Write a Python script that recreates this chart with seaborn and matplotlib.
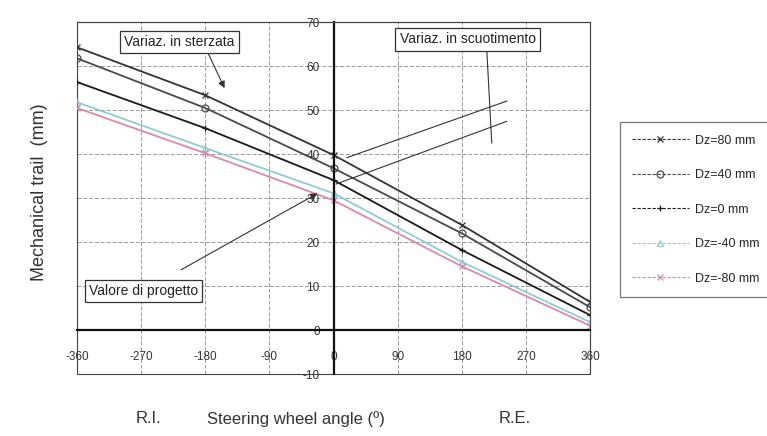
import numpy as np
import pandas as pd
import matplotlib
matplotlib.use("Agg")
import matplotlib.pyplot as plt
from matplotlib.patches import Rectangle
import seaborn as sns

sns.set_theme(style="white")
plt.rcParams['font.family'] = ['Liberation Sans', 'DejaVu Sans']

# -------------------------
# Data
# -------------------------
angles = [-360, -180, 0, 180, 360]
dz_80 = [64.3, 53.4, 39.8, 23.9, 6.4]
dz_40 = [61.8, 50.5, 36.8, 22.0, 5.2]
dz_0 = [56.4, 45.9, 34.1, 18.2, 3.4]
dz_m40 = [51.8, 41.4, 31.1, 15.5, 1.8]
dz_m80 = [50.5, 40.2, 29.5, 14.5, 1.0]

labels = ["Dz=80 mm", "Dz=40 mm", "Dz=0 mm", "Dz=-40 mm", "Dz=-80 mm"]
colors = ["#333333", "#4a4a4a", "#1a1a1a", "#8fcbd8", "#d98aa8"]
markers = ["x", "o", "+", "^", "x"]

xticks = [-360, -270, -180, -90, 0, 90, 180, 270, 360]
yticks = [-10, 0, 10, 20, 30, 40, 50, 60, 70]

df = pd.DataFrame({
    "angle": angles * 5,
    "trail": dz_80 + dz_40 + dz_0 + dz_m40 + dz_m80,
    "series": [lab for lab in labels for _ in angles],
})

# -------------------------
# Plot
# -------------------------
fig = plt.figure(figsize=(7.67, 4.36), dpi=100)
ax = fig.add_axes([0.1004, 0.142, 0.669, 0.807])

for lab, col, mk in zip(labels, colors, markers):
    sub = df[df["series"] == lab]
    sns.lineplot(data=sub, x="angle", y="trail", color=col, marker=mk,
                 markersize=5, linewidth=1.3, markerfacecolor="none",
                 markeredgecolor=col, markeredgewidth=0.9, label=lab, ax=ax)

# axes through the origin, with a frame around the plot
ax.spines['left'].set_position(('data', 0))
ax.spines['bottom'].set_position(('data', 0))
for s in ['left', 'bottom']:
    ax.spines[s].set_linewidth(1.6)
    ax.spines[s].set_color("#111111")
for s in ['top', 'right']:
    ax.spines[s].set_linewidth(0.8)
    ax.spines[s].set_color("#444444")
ax.add_patch(Rectangle((0, 0), 1, 1, transform=ax.transAxes, fill=False,
                       lw=0.8, ec="#444444", clip_on=False))

ax.set_xlim(-360, 360)
ax.set_ylim(-10, 70)
ax.set_xticks(xticks)
ax.set_yticks(yticks)
ax.set_xticklabels([str(t) for t in xticks])
ax.set_yticklabels([str(t) for t in yticks])
ax.tick_params(direction='inout', length=6, width=1.0, color="#222222",
               labelsize=8.5, labelcolor="#333333")
ax.tick_params(axis='x', pad=12)
ax.tick_params(axis='y', pad=7)
ax.grid(True, linestyle=(0, (4, 2)), color="#9a9a9a", linewidth=0.7)
ax.set_axisbelow(True)

ax.set_xlabel("")
ax.set_ylabel("")
fig.text(0.052, 0.56, "Mechanical trail  (mm)", rotation=90, ha="center",
         va="center", fontsize=13, color="#333333")
fig.text(0.194, 0.04, "R.I.", ha="center", va="center", fontsize=12, color="#333333")
fig.text(0.386, 0.04, "Steering wheel angle (º)", ha="center", va="center",
         fontsize=12, color="#333333")
fig.text(0.671, 0.04, "R.E.", ha="center", va="center", fontsize=12, color="#333333")

# -------------------------
# Annotations
# -------------------------
box = dict(boxstyle="square,pad=0.3", fc="white", ec="#333333", lw=0.9)
ax.annotate("Variaz. in sterzata", xy=(-153, 55), xytext=(-216, 65.5),
            fontsize=10, ha="center", va="center", bbox=box, color="#222222",
            arrowprops=dict(arrowstyle="-|>", color="#333333", lw=0.8,
                            shrinkA=0, shrinkB=0, relpos=(0.74, 0.0)))
ax.annotate("Variaz. in scuotimento", xy=(222, 42.5), xytext=(188, 66.1),
            fontsize=10, ha="center", va="center", bbox=box, color="#222222",
            arrowprops=dict(arrowstyle="-", color="#333333", lw=0.8,
                            shrinkA=0, shrinkB=0, relpos=(0.64, 0.0)))
ax.annotate("", xy=(247, 52.3), xytext=(15, 39.0),
            arrowprops=dict(arrowstyle="-", color="#333333", lw=0.8))
ax.annotate("", xy=(247, 47.7), xytext=(0, 33.0),
            arrowprops=dict(arrowstyle="-", color="#333333", lw=0.8))
ax.annotate("Valore di progetto", xy=(-22.5, 31.1), xytext=(-267, 8.9),
            fontsize=10, ha="center", va="center", bbox=box, color="#222222",
            arrowprops=dict(arrowstyle="-|>", color="#333333", lw=0.8,
                            shrinkA=14, shrinkB=0))

# -------------------------
# Legend
# -------------------------
leg = ax.legend(loc="upper left", bbox_to_anchor=(0.800, 0.734),
                bbox_transform=fig.transFigure, fontsize=9, frameon=True,
                fancybox=False, edgecolor="#555555", labelspacing=1.8,
                handlelength=4.5, handletextpad=0.55, borderpad=1.0)
leg.get_frame().set_linewidth(0.9)
for h in leg.get_lines():
    h.set_linestyle((0, (3, 1.5)))
    h.set_linewidth(0.8)

fig.savefig("out.png", dpi=100)
